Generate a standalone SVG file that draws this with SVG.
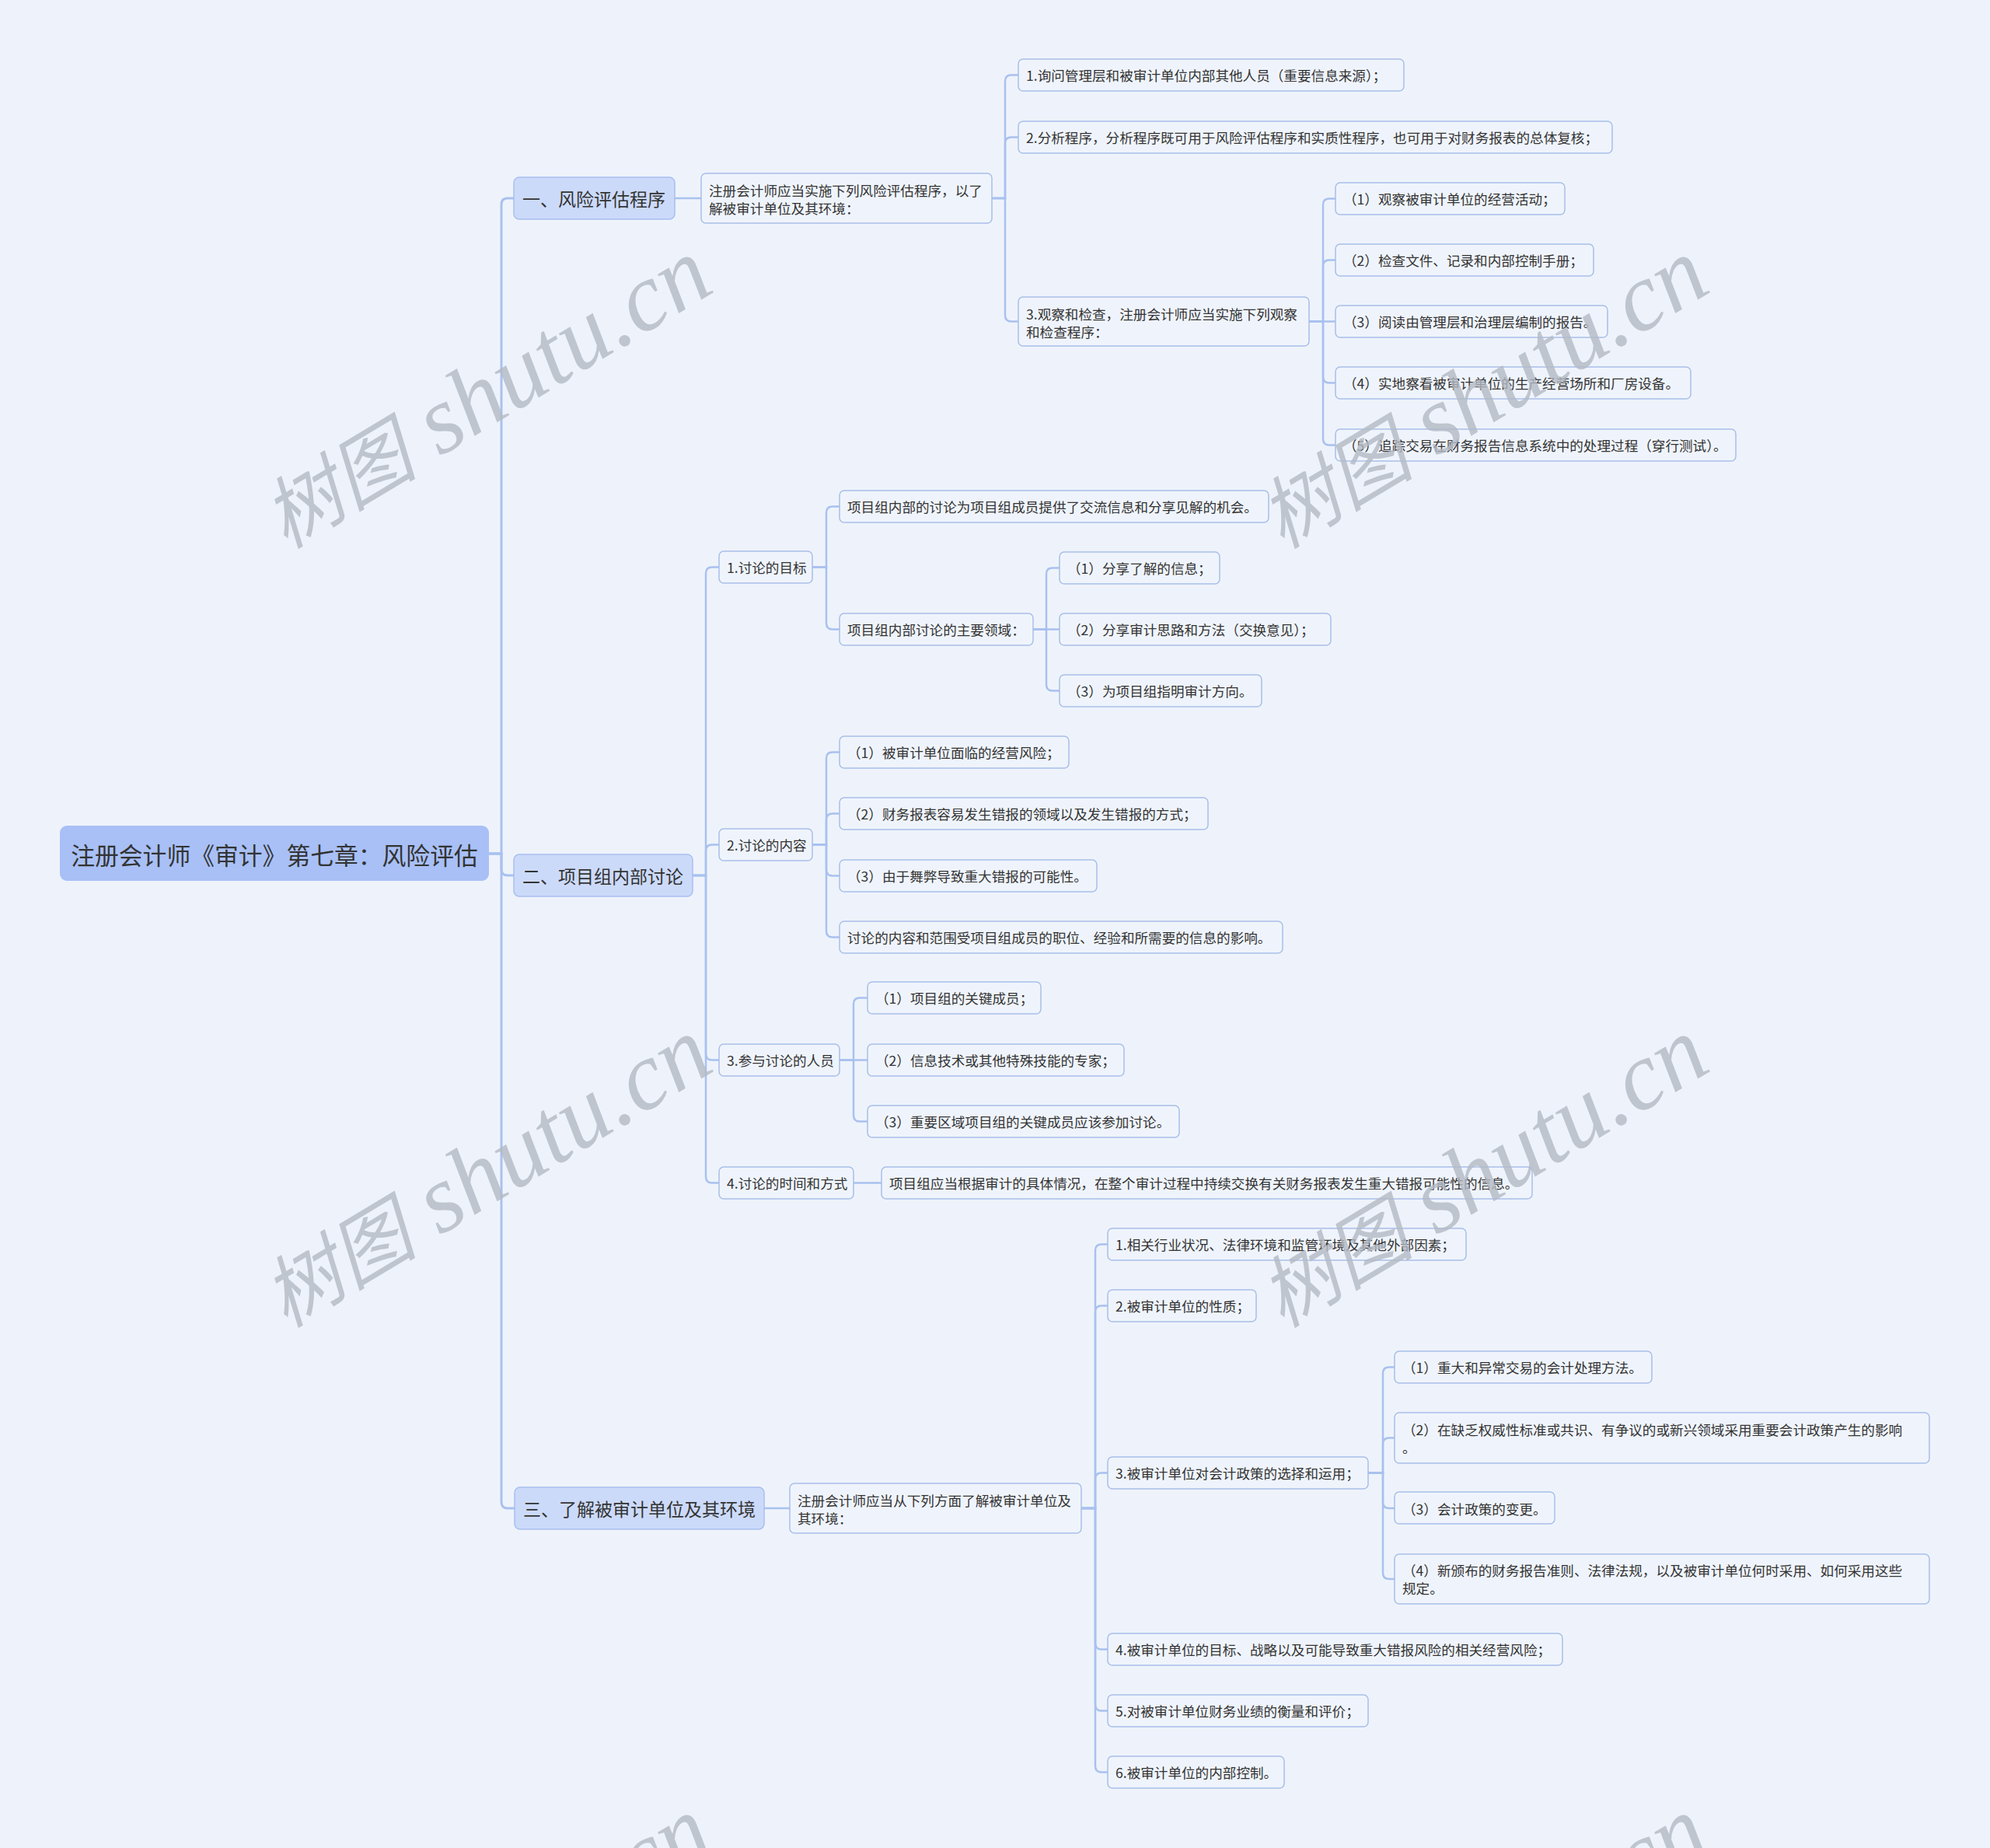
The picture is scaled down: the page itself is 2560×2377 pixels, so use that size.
<svg xmlns="http://www.w3.org/2000/svg" width="2560" height="2377" viewBox="0 0 2560 2377">
<style>
text{font-family:"Noto Sans CJK SC","Noto Sans",sans-serif;fill:#333;dominant-baseline:central}
.t{font-size:17.6px}
.l1t{font-size:23px}
.rt{font-size:30.8px}
.leaf{fill:#eff4fc;stroke:#a9bfe9;stroke-width:1.5}
.l1{fill:#ccdafa;stroke:#a9bff0;stroke-width:1.5}
.root{fill:#a8c0f6}
.conn path{fill:none;stroke:#a9c1ef;stroke-width:2.5;stroke-linecap:round}
.conn path.main{stroke-width:3}
.wm text{font-size:124px;font-style:italic;fill:#b4bac4;opacity:0.8;dominant-baseline:auto}
.wm .cj{font-size:100px}
.wm .lt{font-family:"Liberation Serif",serif}
</style>
<rect width="2560" height="2377" fill="#eef3fb"/>
<g class="conn">
<path class="main" d="M629 1098H645V263Q645 255 653 255H661"/>
<path class="main" d="M629 1098H645V1118Q645 1126 653 1126H661"/>
<path class="main" d="M629 1098H645V1932Q645 1940 653 1940H662"/>
<path d="M868 255H902"/>
<path d="M1276 255H1293V104.5Q1293 96.5 1301 96.5H1310"/>
<path d="M1276 255H1293V184.5Q1293 176.5 1301 176.5H1310"/>
<path d="M1276 255H1293V405.5Q1293 413.5 1301 413.5H1310"/>
<path d="M1684 413.5H1702V263.5Q1702 255.5 1710 255.5H1718"/>
<path d="M1684 413.5H1702V342.5Q1702 334.5 1710 334.5H1718"/>
<path d="M1684 413.5H1718"/>
<path d="M1684 413.5H1702V484.5Q1702 492.5 1710 492.5H1718"/>
<path d="M1684 413.5H1702V564.5Q1702 572.5 1710 572.5H1718"/>
<path d="M891 1126H908V737.5Q908 729.5 916 729.5H925"/>
<path d="M891 1126H908V1094.5Q908 1086.5 916 1086.5H925"/>
<path d="M891 1126H908V1355.5Q908 1363.5 916 1363.5H925"/>
<path d="M891 1126H908V1513.5Q908 1521.5 916 1521.5H925"/>
<path d="M1045 729.5H1063V659.5Q1063 651.5 1071 651.5H1080"/>
<path d="M1045 729.5H1063V801.5Q1063 809.5 1071 809.5H1080"/>
<path d="M1329 809.5H1346V738.5Q1346 730.5 1354 730.5H1363"/>
<path d="M1329 809.5H1363"/>
<path d="M1329 809.5H1346V880.5Q1346 888.5 1354 888.5H1363"/>
<path d="M1045 1086.5H1063V975.5Q1063 967.5 1071 967.5H1080"/>
<path d="M1045 1086.5H1063V1054.5Q1063 1046.5 1071 1046.5H1080"/>
<path d="M1045 1086.5H1063V1118.5Q1063 1126.5 1071 1126.5H1080"/>
<path d="M1045 1086.5H1063V1197.5Q1063 1205.5 1071 1205.5H1080"/>
<path d="M1080 1363.5H1098V1291.5Q1098 1283.5 1106 1283.5H1116"/>
<path d="M1080 1363.5H1116"/>
<path d="M1080 1363.5H1098V1434.5Q1098 1442.5 1106 1442.5H1116"/>
<path d="M1098 1521.5H1134"/>
<path d="M983 1940H1016"/>
<path d="M1391 1940H1409V1608.5Q1409 1600.5 1417 1600.5H1425"/>
<path d="M1391 1940H1409V1687.5Q1409 1679.5 1417 1679.5H1425"/>
<path d="M1391 1940H1409V1902.5Q1409 1894.5 1417 1894.5H1425"/>
<path d="M1391 1940H1409V2113.5Q1409 2121.5 1417 2121.5H1425"/>
<path d="M1391 1940H1409V2192.5Q1409 2200.5 1417 2200.5H1425"/>
<path d="M1391 1940H1409V2271.5Q1409 2279.5 1417 2279.5H1425"/>
<path d="M1760 1894.5H1779V1766.5Q1779 1758.5 1787 1758.5H1794"/>
<path d="M1760 1894.5H1779V1857.5Q1779 1849.5 1787 1849.5H1794"/>
<path d="M1760 1894.5H1779V1932Q1779 1940 1787 1940H1794"/>
<path d="M1760 1894.5H1779V2023Q1779 2031 1787 2031H1794"/>
</g>
<g id="root"><rect class="root" x="77" y="1062" width="552" height="71" rx="9"/><text class="rt" x="353" y="1098" text-anchor="middle">注册会计师《审计》第七章：风险评估</text></g>
<g id="n1"><rect class="l1" x="661" y="228" width="207" height="54" rx="7"/><text class="l1t" x="672" y="255">一、风险评估程序</text></g>
<g id="n2"><rect class="l1" x="661" y="1099" width="230" height="54" rx="7"/><text class="l1t" x="672" y="1126">二、项目组内部讨论</text></g>
<g id="n3"><rect class="l1" x="662" y="1913" width="321" height="54" rx="7"/><text class="l1t" x="673" y="1940">三、了解被审计单位及其环境</text></g>
<g id="a1"><rect class="leaf" x="902" y="223" width="374" height="64" rx="6"/><text class="t" x="912" y="244.5">注册会计师应当实施下列风险评估程序，以了</text><text class="t" x="912" y="267.5">解被审计单位及其环境：</text></g>
<g id="b1"><rect class="leaf" x="1310" y="76" width="496" height="41" rx="6"/><text class="t" x="1320" y="96.5">1.询问管理层和被审计单位内部其他人员（重要信息来源）；</text></g>
<g id="b2"><rect class="leaf" x="1310" y="156" width="764" height="41" rx="6"/><text class="t" x="1320" y="176.5">2.分析程序，分析程序既可用于风险评估程序和实质性程序，也可用于对财务报表的总体复核；</text></g>
<g id="b3"><rect class="leaf" x="1310" y="382" width="374" height="63" rx="6"/><text class="t" x="1320" y="403">3.观察和检查，注册会计师应当实施下列观察</text><text class="t" x="1320" y="426">和检查程序：</text></g>
<g id="c1"><rect class="leaf" x="1718" y="235" width="295" height="41" rx="6"/><text class="t" x="1728" y="255.5">（1）观察被审计单位的经营活动；</text></g>
<g id="c2"><rect class="leaf" x="1718" y="314" width="332" height="41" rx="6"/><text class="t" x="1728" y="334.5">（2）检查文件、记录和内部控制手册；</text></g>
<g id="c3"><rect class="leaf" x="1718" y="393" width="350" height="41" rx="6"/><text class="t" x="1728" y="413.5">（3）阅读由管理层和治理层编制的报告。</text></g>
<g id="c4"><rect class="leaf" x="1718" y="472" width="457" height="41" rx="6"/><text class="t" x="1728" y="492.5">（4）实地察看被审计单位的生产经营场所和厂房设备。</text></g>
<g id="c5"><rect class="leaf" x="1718" y="552" width="515" height="41" rx="6"/><text class="t" x="1728" y="572.5">（5）追踪交易在财务报告信息系统中的处理过程（穿行测试）。</text></g>
<g id="d1"><rect class="leaf" x="925" y="709" width="120" height="41" rx="6"/><text class="t" x="935" y="729.5">1.讨论的目标</text></g>
<g id="e1"><rect class="leaf" x="1080" y="631" width="552" height="41" rx="6"/><text class="t" x="1090" y="651.5">项目组内部的讨论为项目组成员提供了交流信息和分享见解的机会。</text></g>
<g id="e2"><rect class="leaf" x="1080" y="789" width="249" height="41" rx="6"/><text class="t" x="1090" y="809.5">项目组内部讨论的主要领域：</text></g>
<g id="f1"><rect class="leaf" x="1363" y="710" width="206" height="41" rx="6"/><text class="t" x="1373" y="730.5">（1）分享了解的信息；</text></g>
<g id="f2"><rect class="leaf" x="1363" y="789" width="349" height="41" rx="6"/><text class="t" x="1373" y="809.5">（2）分享审计思路和方法（交换意见）；</text></g>
<g id="f3"><rect class="leaf" x="1363" y="868" width="260" height="41" rx="6"/><text class="t" x="1373" y="888.5">（3）为项目组指明审计方向。</text></g>
<g id="d2"><rect class="leaf" x="925" y="1066" width="120" height="41" rx="6"/><text class="t" x="935" y="1086.5">2.讨论的内容</text></g>
<g id="g1"><rect class="leaf" x="1080" y="947" width="295" height="41" rx="6"/><text class="t" x="1090" y="967.5">（1）被审计单位面临的经营风险；</text></g>
<g id="g2"><rect class="leaf" x="1080" y="1026" width="474" height="41" rx="6"/><text class="t" x="1090" y="1046.5">（2）财务报表容易发生错报的领域以及发生错报的方式；</text></g>
<g id="g3"><rect class="leaf" x="1080" y="1106" width="331" height="41" rx="6"/><text class="t" x="1090" y="1126.5">（3）由于舞弊导致重大错报的可能性。</text></g>
<g id="g4"><rect class="leaf" x="1080" y="1185" width="570" height="41" rx="6"/><text class="t" x="1090" y="1205.5">讨论的内容和范围受项目组成员的职位、经验和所需要的信息的影响。</text></g>
<g id="d3"><rect class="leaf" x="925" y="1343" width="155" height="41" rx="6"/><text class="t" x="935" y="1363.5">3.参与讨论的人员</text></g>
<g id="h1"><rect class="leaf" x="1116" y="1263" width="223" height="41" rx="6"/><text class="t" x="1126" y="1283.5">（1）项目组的关键成员；</text></g>
<g id="h2"><rect class="leaf" x="1116" y="1343" width="330" height="41" rx="6"/><text class="t" x="1126" y="1363.5">（2）信息技术或其他特殊技能的专家；</text></g>
<g id="h3"><rect class="leaf" x="1116" y="1422" width="401" height="41" rx="6"/><text class="t" x="1126" y="1442.5">（3）重要区域项目组的关键成员应该参加讨论。</text></g>
<g id="d4"><rect class="leaf" x="925" y="1501" width="173" height="41" rx="6"/><text class="t" x="935" y="1521.5">4.讨论的时间和方式</text></g>
<g id="i1"><rect class="leaf" x="1134" y="1501" width="837" height="41" rx="6"/><text class="t" x="1144" y="1521.5">项目组应当根据审计的具体情况，在整个审计过程中持续交换有关财务报表发生重大错报可能性的信息。</text></g>
<g id="j1"><rect class="leaf" x="1016" y="1908" width="375" height="64" rx="6"/><text class="t" x="1026" y="1929.5">注册会计师应当从下列方面了解被审计单位及</text><text class="t" x="1026" y="1952.5">其环境：</text></g>
<g id="k1"><rect class="leaf" x="1425" y="1580" width="461" height="41" rx="6"/><text class="t" x="1435" y="1600.5">1.相关行业状况、法律环境和监管环境及其他外部因素；</text></g>
<g id="k2"><rect class="leaf" x="1425" y="1659" width="191" height="41" rx="6"/><text class="t" x="1435" y="1679.5">2.被审计单位的性质；</text></g>
<g id="k3"><rect class="leaf" x="1425" y="1874" width="335" height="41" rx="6"/><text class="t" x="1435" y="1894.5">3.被审计单位对会计政策的选择和运用；</text></g>
<g id="l1"><rect class="leaf" x="1794" y="1738" width="331" height="41" rx="6"/><text class="t" x="1804" y="1758.5">（1）重大和异常交易的会计处理方法。</text></g>
<g id="l2"><rect class="leaf" x="1794" y="1817" width="688" height="65" rx="6"/><text class="t" x="1804" y="1838">（2）在缺乏权威性标准或共识、有争议的或新兴领域采用重要会计政策产生的影响</text><text class="t" x="1804" y="1861">。</text></g>
<g id="l3"><rect class="leaf" x="1794" y="1919" width="206" height="41" rx="6"/><text class="t" x="1804" y="1940">（3）会计政策的变更。</text></g>
<g id="l4"><rect class="leaf" x="1794" y="1999" width="688" height="64" rx="6"/><text class="t" x="1804" y="2019.5">（4）新颁布的财务报告准则、法律法规，以及被审计单位何时采用、如何采用这些</text><text class="t" x="1804" y="2042.5">规定。</text></g>
<g id="k4"><rect class="leaf" x="1425" y="2101" width="585" height="41" rx="6"/><text class="t" x="1435" y="2121.5">4.被审计单位的目标、战略以及可能导致重大错报风险的相关经营风险；</text></g>
<g id="k5"><rect class="leaf" x="1425" y="2180" width="335" height="41" rx="6"/><text class="t" x="1435" y="2200.5">5.对被审计单位财务业绩的衡量和评价；</text></g>
<g id="k6"><rect class="leaf" x="1425" y="2259" width="227" height="41" rx="6"/><text class="t" x="1435" y="2279.5">6.被审计单位的内部控制。</text></g>
<g class="wm">
<text transform="translate(645 540) rotate(-31)" text-anchor="middle"><tspan class="cj">树图</tspan><tspan class="lt"> shutu.cn</tspan></text>
<text transform="translate(1927 540) rotate(-31)" text-anchor="middle"><tspan class="cj">树图</tspan><tspan class="lt"> shutu.cn</tspan></text>
<text transform="translate(645 1542) rotate(-31)" text-anchor="middle"><tspan class="cj">树图</tspan><tspan class="lt"> shutu.cn</tspan></text>
<text transform="translate(1927 1542) rotate(-31)" text-anchor="middle"><tspan class="cj">树图</tspan><tspan class="lt"> shutu.cn</tspan></text>
<text transform="translate(645 2544) rotate(-31)" text-anchor="middle"><tspan class="cj">树图</tspan><tspan class="lt"> shutu.cn</tspan></text>
<text transform="translate(1927 2544) rotate(-31)" text-anchor="middle"><tspan class="cj">树图</tspan><tspan class="lt"> shutu.cn</tspan></text>
</g>
</svg>
